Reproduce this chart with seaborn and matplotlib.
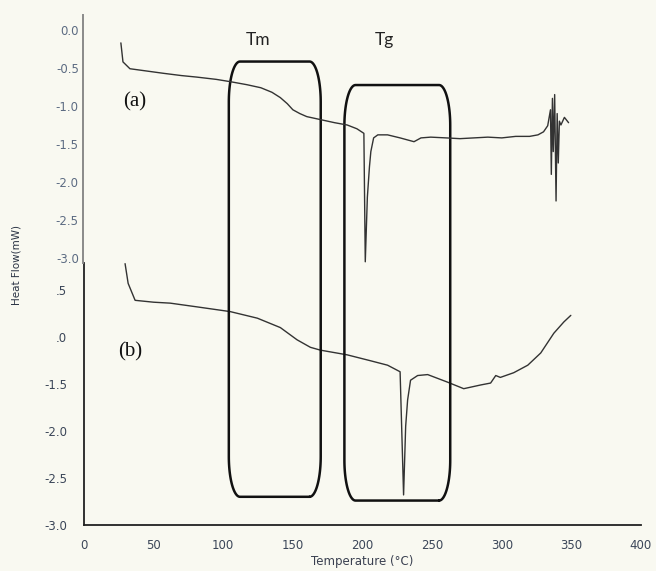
import numpy as np
import matplotlib
matplotlib.use("Agg")
import matplotlib.pyplot as plt
import seaborn as sns

# curve (a): temperature (degC) and heat flow (mW)
temp_a = [26.5, 28, 33, 45, 57, 70, 81, 95, 105, 117, 127, 135, 141, 146, 150, 155, 160, 170,
          180, 189, 196, 201, 202, 203.5, 205, 206, 208, 211, 218, 227, 237, 242, 249,
          260, 270, 280, 290, 300, 310, 320, 326, 330, 333, 335, 335.6, 336.4, 337, 338,
          339, 339.8, 340.6, 341.4, 342.5, 345, 348]
flow_a = [-0.17, -0.42, -0.51, -0.54, -0.57, -0.60, -0.62, -0.65, -0.68, -0.72, -0.76, -0.82,
          -0.89, -0.97, -1.05, -1.10, -1.14, -1.18, -1.22, -1.25, -1.30, -1.36, -3.05, -2.2,
          -1.8, -1.6, -1.42, -1.38, -1.38, -1.42, -1.47, -1.42, -1.41, -1.42, -1.43, -1.42,
          -1.41, -1.42, -1.40, -1.40, -1.38, -1.34, -1.26, -1.05, -1.90, -0.90, -1.60, -0.85,
          -2.25, -1.10, -1.75, -1.20, -1.25, -1.15, -1.22]

# curve (b)
temp_b = [29.5, 31.7, 36.7, 50, 61.9, 81.3, 105, 124.5, 141, 153, 162.6, 169.8, 189, 205, 218,
          227, 229.5, 231, 232.4, 234.5, 239.6, 246.8, 261, 272.7, 285, 292, 295.7, 299,
          308.6, 318.7, 328, 337.4, 344.6, 349.6]
flow_b = [-0.22, -0.43, -0.61, -0.63, -0.64, -0.68, -0.73, -0.80, -0.90, -1.03, -1.11, -1.14,
          -1.19, -1.25, -1.30, -1.37, -2.68, -1.95, -1.67, -1.46, -1.41, -1.40, -1.48, -1.55,
          -1.51, -1.49, -1.41, -1.43, -1.38, -1.30, -1.17, -0.96, -0.84, -0.77]

xticks = [0, 50, 100, 150, 200, 250, 300, 350, 400]
yticks_a = [0.0, -0.5, -1.0, -1.5, -2.0, -2.5, -3.0]
ylabels_a = ["0.0", "-0.5", "-1.0", "-1.5", "-2.0", "-2.5", "-3.0"]
yticks_b = [-3.0, -2.5, -2.0, -1.5, -1.0, -0.5]
ylabels_b = ["-3.0", "-2.5", "-2.0", "-1.5", ".0", ".5"]

# marked regions: (T start, T end, bottom, top) in the (b) axis units
tm_box = (104, 170, -2.70, 1.93)
tg_box = (187, 263, -2.74, 1.68)

sns.set_style("white")
bg = "#f9f9f1"
fig = plt.figure(figsize=(6.56, 5.71), dpi=100, facecolor=bg)
W, H = 656, 571

# lower panel (b)
axb = fig.add_axes([84 / W, (H - 525) / H, 557 / W, (525 - 263) / H])
axb.set_facecolor("none")
sns.lineplot(x=temp_b, y=flow_b, sort=False, estimator=None, ax=axb,
             color="#333333", lw=1.0)
for l in axb.lines:
    l.set_clip_on(False)
axb.set_xlim(0, 400)
axb.set_ylim(-3.0, -0.213)
axb.set_xticks(xticks)
axb.set_xticklabels([str(t) for t in xticks])
axb.set_xticks(np.arange(25, 400, 50), minor=True)
axb.set_yticks(yticks_b)
axb.set_yticklabels(ylabels_b)
axb.set_yticks(np.arange(-2.75, -0.5, 0.5), minor=True)
for s in ["top", "right"]:
    axb.spines[s].set_visible(False)
for s in ["left", "bottom"]:
    axb.spines[s].set_color("#222222")
    axb.spines[s].set_linewidth(1.3)
axb.tick_params(which="major", direction="out", length=7, width=1.3, color="#222222",
                labelsize=8.5, labelcolor="#3b4658", pad=3)
axb.tick_params(which="minor", direction="out", length=3.5, width=1.0, color="#444444")
axb.tick_params(axis="y", which="major", pad=5)
axb.set_xlabel("")
axb.set_ylabel("")


def rounded_box(ax, box, rx=8, ry=0.43):
    x0, x1, y0, y1 = box
    t = np.linspace(0, np.pi / 2, 25)
    xs, ys = [], []
    centers = [(x1 - rx, y0 + ry, -np.pi / 2), (x1 - rx, y1 - ry, 0),
               (x0 + rx, y1 - ry, np.pi / 2), (x0 + rx, y0 + ry, np.pi)]
    for cx, cy, a0 in centers:
        xs.extend(cx + rx * np.cos(a0 + t))
        ys.extend(cy + ry * np.sin(a0 + t))
    xs.append(xs[0])
    ys.append(ys[0])
    ax.plot(xs, ys, color="#111111", lw=1.8, clip_on=False, solid_joinstyle="round")


rounded_box(axb, tm_box)
rounded_box(axb, tg_box)

axb.text(33, -1.16, "(b)", fontsize=15, family="Liberation Serif", color="#111111",
         ha="center", va="center")

# upper panel (a)
axa = fig.add_axes([83 / W, (H - 263) / H, 558 / W, (263 - 15) / H])
axa.set_facecolor("none")
sns.lineplot(x=temp_a, y=flow_a, sort=False, estimator=None, ax=axa,
             color="#333333", lw=1.0)
for l in axa.lines:
    l.set_clip_on(False)
axa.set_xlim(-0.7, 400)
axa.set_ylim(-3.066, 0.197)
axa.set_xticks([])
axa.set_yticks(yticks_a)
axa.set_yticklabels(ylabels_a)
for s in ["top", "right", "bottom"]:
    axa.spines[s].set_visible(False)
axa.spines["left"].set_color("#8a8a8a")
axa.spines["left"].set_linewidth(1.4)
axa.tick_params(axis="y", length=0, labelsize=8.5, labelcolor="#5c6b82", pad=3)
axa.set_xlabel("")
axa.set_ylabel("")

axa.text(36.7, -0.95, "(a)", fontsize=15, family="Liberation Serif", color="#111111",
         ha="center", va="center")
axa.text(125, -0.13, "Tm", fontsize=12.5, family="Lato", color="#222222",
         ha="center", va="center")
axa.text(216, -0.13, "Tg", fontsize=12.5, family="Lato", color="#222222",
         ha="center", va="center")

fig.text(17 / W, 1 - 265 / H, "Heat Flow(mW)", rotation=90, fontsize=7.5,
         color="#2a3344", ha="center", va="center")
fig.text(362 / W, 1 - 561 / H, "Temperature (°C)", fontsize=8.5, color="#3a4050",
         ha="center", va="center")

fig.savefig("out.png", dpi=100, facecolor=bg)
